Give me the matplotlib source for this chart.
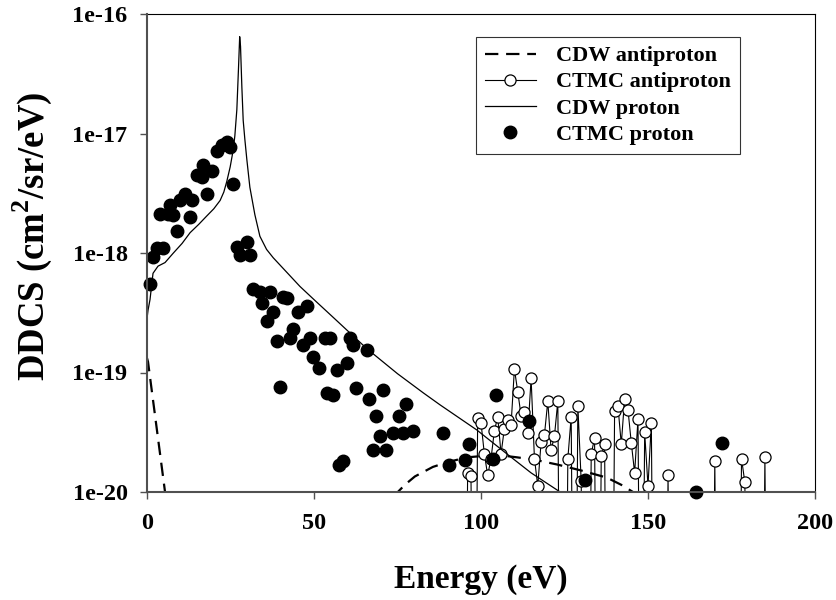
import numpy as np
import matplotlib
matplotlib.use('Agg')
import matplotlib.pyplot as plt

plt.rcParams['font.family'] = ['Liberation Serif', 'DejaVu Serif']
plt.rcParams['font.weight'] = 'bold'
plt.rcParams['mathtext.fontset'] = 'custom'
plt.rcParams['mathtext.bf'] = 'Liberation Serif:bold'
plt.rcParams['mathtext.rm'] = 'Liberation Serif:bold'

# CDW proton (energy eV, log10 DDCS)
cdw_p_E = [0.0, 0.3, 0.9, 1.8, 3.3, 5.4, 7.9, 10.5, 12.9, 15.5, 17.9, 20.0, 21.9, 23.0, 23.9,
           24.9, 25.8, 26.3, 26.9, 27.4, 27.75,
           28.0, 28.4, 28.8, 29.3, 29.9, 30.8, 32.3, 33.8, 35.8, 37.8, 40.8, 43.8, 45.8,
           50.0, 55.8, 65.8, 75.0, 82.7, 87.7, 98.7, 107.7, 115.0, 123.7, 130.0]
cdw_p_log = [-18.55, -18.48, -18.39, -18.17, -18.11, -18.08, -18.00, -17.92, -17.83, -17.76,
             -17.69, -17.63, -17.56, -17.49, -17.40, -17.28, -17.14, -17.02, -16.80, -16.45,
             -16.19,
             -16.27, -16.61, -16.89, -17.05, -17.22, -17.45, -17.68, -17.86, -17.97, -18.04,
             -18.13, -18.22, -18.28, -18.39, -18.54, -18.80, -19.01, -19.17, -19.27, -19.48,
             -19.68, -19.84, -20.0, -20.12]

# CDW antiproton (None splits the two branches)
cdw_ap_E = [0.0, 0.3, 5.4, 6.0, None,
            74.0, 75.1, 77.2, 80.2, 85.6, 90.0, 95.8, 100.0, 105.0, 110.8, 116.0, 122.8,
            130.0, 137.7, 142.0, 145.5, 147.0]
cdw_ap_log = [-18.88, -18.91, -20.0, -20.12, None,
              -20.05, -20.0, -19.94, -19.87, -19.79, -19.75, -19.71, -19.70, -19.69, -19.71,
              -19.73, -19.77, -19.82, -19.88, -19.94, -20.0, -20.05]

# CTMC proton
ctmc_p_E = [0.9, 1.9, 2.9, 4.9, 3.9, 6.3, 7.8, 6.9, 8.9, 9.9, 11.4, 13.4, 12.9, 17.9, 14.9,
            16.4, 16.9, 19.4, 20.9, 22.4, 23.9, 24.9, 25.8, 26.9, 29.9, 27.8, 30.8, 31.8,
            33.8, 36.8, 34.3, 37.8, 35.8, 40.8, 41.8, 45.3, 47.8, 43.8, 42.8, 38.8, 46.8,
            48.8, 49.8, 51.5, 39.8, 53.3, 54.8, 56.8, 59.8, 60.8, 61.8, 65.8, 53.8, 55.8,
            62.6, 66.6, 70.7, 68.6, 75.5, 77.5, 69.8, 73.6, 76.6, 79.6, 67.6, 71.6, 57.6,
            58.6, 88.5, 96.5, 90.5, 95.2, 104.5, 103.7, 114.5, 131.1, 172.1, 164.3]
ctmc_p_log = [-18.26, -18.03, -17.96, -17.96, -17.67, -17.67, -17.68, -17.60, -17.82, -17.56,
              -17.51, -17.56, -17.70, -17.51, -17.35, -17.36, -17.26, -17.31, -17.15, -17.10,
              -17.07, -17.11, -17.42, -17.95, -17.91, -18.02, -18.02, -18.30, -18.33, -18.33,
              -18.42, -18.49, -18.57, -18.37, -18.38, -18.49, -18.44, -18.64, -18.71, -18.74,
              -18.77, -18.71, -18.87, -18.96, -19.12, -18.71, -18.71, -18.98, -18.92, -18.71,
              -18.77, -18.81, -19.17, -19.19, -19.13, -19.22, -19.15, -19.36, -19.36, -19.26,
              -19.53, -19.51, -19.51, -19.49, -19.65, -19.65, -19.77, -19.74, -19.51, -19.60,
              -19.77, -19.73, -19.19, -19.72, -19.41, -19.90, -19.59, -20.0]

# CTMC antiproton: non-empty 1 eV bins, the other bins are zero
ctmc_ap_E = [96, 97, 99, 100, 101, 102, 103, 104, 105, 106, 107, 108, 109, 110, 111, 112, 113,
             114, 115, 116, 117, 118, 119, 120, 121, 122, 123, 126, 127, 129, 130, 133, 134,
             136, 137, 140, 141, 142, 143, 144, 145, 146, 147, 149, 150, 151, 156, 170, 178,
             179, 185]
ctmc_ap_log = [-19.84, -19.87, -19.38, -19.42, -19.68, -19.86, -19.72, -19.49, -19.37, -19.68,
               -19.47, -19.40, -19.44, -18.97, -19.16, -19.36, -19.33, -19.51, -19.05, -19.72,
               -19.95, -19.58, -19.52, -19.24, -19.65, -19.53, -19.24, -19.72, -19.37, -19.28,
               -19.91, -19.68, -19.55, -19.70, -19.60, -19.32, -19.28, -19.60, -19.22, -19.31,
               -19.59, -19.84, -19.39, -19.50, -19.95, -19.42, -19.86, -19.74, -19.72, -19.92,
               -19.71]

xticks = [0, 50, 100, 150, 200]
yticks = [1e-20, 1e-19, 1e-18, 1e-17, 1e-16]
ytick_labels = ['1e-20', '1e-19', '1e-18', '1e-17', '1e-16']


def to_vals(logs):
    return [np.nan if v is None else 10.0 ** v for v in logs]


# put the zero bins back in, well below the axis so the line drops out
ap_grid = np.arange(94, 188)
ap_vals = np.full(len(ap_grid), 1e-23)
for e, v in zip(ctmc_ap_E, ctmc_ap_log):
    ap_vals[e - 94] = 10.0 ** v

fig = plt.figure(figsize=(8.37, 6.0), dpi=100)
ax = fig.add_axes([147 / 837, 1 - 492 / 600, 668 / 837, 478 / 600])

ax.plot([np.nan if e is None else e for e in cdw_ap_E], to_vals(cdw_ap_log), color='black',
        lw=1.6, linestyle=(0, (6, 3.5)), label='CDW antiproton')
ax.plot(ap_grid, ap_vals, color='black', lw=0.8, marker='o', ms=8, mfc='white', mec='black',
        mew=0.9, label='CTMC antiproton')
ax.plot(cdw_p_E, to_vals(cdw_p_log), color='black', lw=0.9, label='CDW proton')
ax.plot(ctmc_p_E, to_vals(ctmc_p_log), 'o', color='black', ms=9, clip_on=False,
        label='CTMC proton', zorder=4)

ax.set_yscale('log')
ax.set_xlim(0, 200)
ax.set_ylim(1e-20, 1e-16)
ax.set_xticks(xticks)
ax.set_xticklabels([str(t) for t in xticks])
ax.set_yticks(yticks)
ax.set_yticklabels(ytick_labels)
ax.yaxis.set_minor_locator(matplotlib.ticker.NullLocator())

for s in ['left', 'bottom']:
    ax.spines[s].set_color('#505050')
    ax.spines[s].set_linewidth(1.5)
for s in ['top', 'right']:
    ax.spines[s].set_color('black')
    ax.spines[s].set_linewidth(0.8)
ax.spines['left'].set_zorder(5)
ax.spines['bottom'].set_zorder(5)

ax.tick_params(axis='both', which='major', direction='out', length=5, width=1,
               color='#505050', labelsize=17.5)
ax.tick_params(axis='x', pad=10)
ax.tick_params(axis='y', pad=9)

ax.set_xlabel('Energy (eV)', fontsize=24, fontweight='bold', labelpad=22)
fig.text(32 / 837, 1 - 236 / 600, r'DDCS (cm$^{\mathbf{2}}$/sr/eV)', fontsize=26.5,
         fontweight='bold', rotation=90, ha='center', va='center')

leg = ax.legend(loc='upper left', bbox_to_anchor=(0.4925, 0.952), borderaxespad=0,
                fontsize=16, frameon=True, fancybox=False, handlelength=2.3,
                handletextpad=0.9, labelspacing=0.25, borderpad=0.4, numpoints=1)
leg.get_frame().set_edgecolor('black')
leg.get_frame().set_linewidth(0.8)

fig.savefig('out.png', dpi=100)
